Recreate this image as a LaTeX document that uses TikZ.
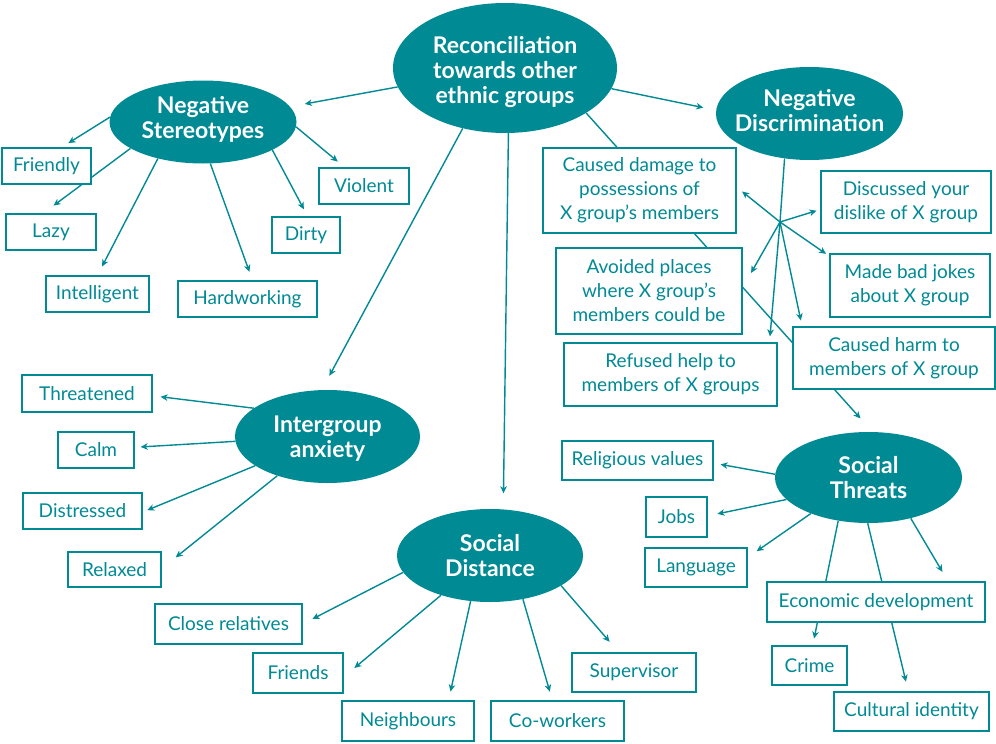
\documentclass[tikz,border=0pt]{standalone}
\usepackage{fontspec}
\setmainfont{Lato}
\usetikzlibrary{shapes,arrows.meta,backgrounds}
\definecolor{tealmap}{RGB}{0,138,148}

\begin{document}
\begin{tikzpicture}[x=1pt,y=-1pt, >={Stealth[length=7pt,width=6.5pt,inset=2pt]},
  cat/.style={ellipse,fill=tealmap,inner sep=0pt},
  catlbl/.style={text=white,font=\bfseries\fontsize{23}{25}\selectfont,align=center},
  item/.style={draw=tealmap,line width=1.3pt,fill=white,text=tealmap,font=\fontsize{19}{24}\selectfont,align=center,inner sep=0pt},
  arr/.style={->,draw=tealmap,line width=1.4pt,shorten >=#1},
  arr/.default=8pt,
  link/.style={draw=tealmap,line width=1.4pt}]
  \useasboundingbox (0,0) rectangle (996,744);

  % main topics
  \node[cat,minimum width=224,minimum height=130,label={[catlbl,yshift=-4pt]center:{Reconciliation\\towards other\\ethnic groups}}] (mn) at (505,68) {};
  \node[cat,minimum width=187,minimum height=83,label={[catlbl,yshift=3pt]center:{Negative\\Stereotypes}}] (ns) at (203,122) {};
  \node[cat,minimum width=187,minimum height=93,label={[catlbl,yshift=3pt]center:{Negative\\Discrimination}}] (nd) at (809.5,113.5) {};
  \node[cat,minimum width=185,minimum height=93,label={[catlbl,yshift=-2pt]center:{Intergroup\\anxiety}}] (ig) at (327.5,436.5) {};
  \node[cat,minimum width=186,minimum height=93,label={[catlbl]center:{Social\\Distance}}] (sd) at (490,555.5) {};
  \node[cat,minimum width=187,minimum height=91,label={[catlbl]center:{Social\\Threats}}] (st) at (868.5,477.5) {};

  % stereotypes
  \node[item,minimum width=89,minimum height=36] (friendly) at (46.5,166) {Friendly};
  \node[item,minimum width=90,minimum height=36] (lazy) at (51,232) {Lazy};
  \node[item,minimum width=103,minimum height=36] (intel) at (97.5,294) {Intelligent};
  \node[item,minimum width=139,minimum height=36] (hard) at (247.5,299) {Hardworking};
  \node[item,minimum width=68,minimum height=36] (dirty) at (306,235) {Dirty};
  \node[item,minimum width=90,minimum height=36] (violent) at (364,186) {Violent};

  % discrimination
  \node[item,minimum width=193,minimum height=85] (damage) at (639.5,190.5) {Caused damage to\\possessions of\\X group’s members};
  \node[item,minimum width=170,minimum height=62] (discuss) at (906,202) {Discussed your\\dislike of X group};
  \node[item,minimum width=160,minimum height=63] (jokes) at (910,285.5) {Made bad jokes\\about X group};
  \node[item,minimum width=186,minimum height=86] (avoid) at (649,291) {Avoided places\\where X group’s\\members could be};
  \node[item,minimum width=213,minimum height=63] (refuse) at (670.5,374.5) {Refused help to\\members of X groups};
  \node[item,minimum width=202,minimum height=62] (harm) at (894,358) {Caused harm to\\members of X group};
  \coordinate (hub) at (780,222);

  % anxiety
  \node[item,minimum width=130,minimum height=37] (threat) at (87,393.5) {Threatened};
  \node[item,minimum width=76,minimum height=36] (calm) at (96,450) {Calm};
  \node[item,minimum width=119,minimum height=36] (distr) at (82.5,511) {Distressed};
  \node[item,minimum width=93,minimum height=35] (relax) at (114.5,569.5) {Relaxed};

  % distance
  \node[item,minimum width=147,minimum height=40] (closerel) at (228.5,624) {Close relatives};
  \node[item,minimum width=90,minimum height=40] (friends) at (298,673) {Friends};
  \node[item,minimum width=132,minimum height=40] (neighb) at (408,721) {Neighbours};
  \node[item,minimum width=133,minimum height=40] (cowork) at (557.5,721) {Co-workers};
  \node[item,minimum width=124,minimum height=39] (superv) at (634,672.5) {Supervisor};

  % threats
  \node[item,minimum width=151,minimum height=39] (relig) at (637.5,460.5) {Religious values};
  \node[item,minimum width=61,minimum height=40] (jobs) at (676.5,517) {Jobs};
  \node[item,minimum width=102,minimum height=39] (lang) at (696,567.5) {Language};
  \node[item,minimum width=218,minimum height=40] (econ) at (876,602) {Economic development};
  \node[item,minimum width=75,minimum height=39] (crime) at (809.5,665.5) {Crime};
  \node[item,minimum width=155,minimum height=39] (cultid) at (911.5,711.5) {Cultural identity};

  \begin{pgfonlayer}{background}
    \draw[arr=15pt] (mn.190) -- (ns.10);
    \draw[arr=13pt] (mn.349) -- (nd.178);
    \draw[arr=16pt] (mn.235) -- (ig.97);
    \draw[arr=16pt] (mn.273) -- (sd.74);
    \draw[arr=18pt] (mn.331) -- (st.85);

    \draw[arr=8pt] (ns.177) -- (friendly.51);
    \draw[arr=13pt] (ns.200) -- (lazy.113);
    \draw[arr=10pt] (ns.219) -- (intel.90);
    \draw[arr=9pt] (ns.280) -- (hard.75);
    \draw[arr=8pt] (ns.338) -- (dirty.85);
    \draw[arr=9pt] (ns.357) -- (violent.136);

    \draw[link] (nd.241) -- (hub);
    \draw[arr=7pt] (hub) -- (damage.2);
    \draw[arr=4pt] (hub) -- (discuss.185);
    \draw[arr=4pt] (hub) -- (jokes.160);
    \draw[arr=17pt] (hub) -- (avoid.2);
    \draw[arr=6pt] (hub) -- (refuse.18);
    \draw[arr=6pt] (hub) -- (harm.161);

    \draw[arr=8pt] (ig.159) -- (threat.358);
    \draw[arr=6pt] (ig.183) -- (calm.4);
    \draw[arr=5pt] (ig.202) -- (distr.359);
    \draw[arr=18pt] (ig.218) -- (relax.1);

    \draw[arr=11pt] (sd.191) -- (closerel.east);
    \draw[arr=14pt] (sd.219) -- (friends.355);
    \draw[arr=9pt] (sd.247) -- (neighb.27);
    \draw[arr=9pt] (sd.307) -- (cowork.104);
    \draw[arr=14pt] (sd.337) -- (superv.127);

    \draw[arr=7pt] (st.178) -- (relig.358);
    \draw[arr=10pt] (st.195) -- (jobs.2);
    \draw[arr=11pt] (st.212) -- (lang.11);
    \draw[arr=11pt] (st.316) -- (econ.16);
    \draw[arr=7pt] (st.235) -- (crime.81);
    \draw[arr=10pt] (st.269) -- (cultid.99);
  \end{pgfonlayer}
\end{tikzpicture}
\end{document}
